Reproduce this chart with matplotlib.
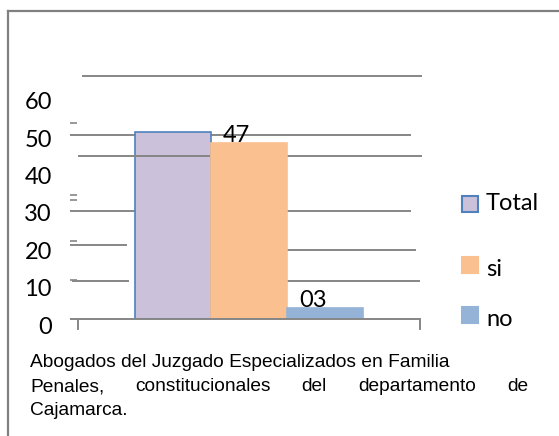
import matplotlib
matplotlib.use("Agg")
import matplotlib.pyplot as plt
from matplotlib.patches import Rectangle
from matplotlib.lines import Line2D
import matplotlib.transforms as mtransforms

# ---- data ----
series = ["Total", "si", "no"]
values = [50, 47, 3]
value_labels = ["", "47", "03"]
ytick_values = [0, 10, 20, 30, 40, 50, 60]
ytick_labels = ["0", "10", "20", "30", "40", "50", "60"]
caption_lines = [
    "Abogados del Juzgado Especializados en Familia",
    "Penales, constitucionales del departamento de",
    "Cajamarca.",
]

# ---- style ----
colors = ["#ccc1da", "#fac090", "#95b3d7"]
edgecolors = ["#4f81bd", "#fac090", "#95b3d7"]
GRID = "#868686"
FONT = "Lato"

W, H = 559, 436
fig = plt.figure(figsize=(W / 100, H / 100), dpi=100)


def fx(x):
    return x / W


def fy(y):
    return 1 - y / H


# outer frame (left and top borders)
fig.add_artist(Line2D([fx(8), fx(8)], [fy(11), 0], transform=fig.transFigure,
                      color="#808080", lw=1.6))
fig.add_artist(Line2D([fx(8), 1], [fy(11), fy(11)], transform=fig.transFigure,
                      color="#808080", lw=1.6))

AX_L, AX_R, AX_B, AX_T = 70, 422, 319, 76
ax = fig.add_axes([fx(AX_L), fy(AX_B), (AX_R - AX_L) / W, (AX_B - AX_T) / H])
XMIN, XMAX = -0.508, 0.492
ax.set_xlim(XMIN, XMAX)
ax.set_ylim(0, 65)
ax.axis("off")

ppu = (AX_B - AX_T) / 65.0  # pixels per unit


def xd(px):
    return XMIN + (px - AX_L) / (AX_R - AX_L) * (XMAX - XMIN)


def yd(py):
    return (AX_B - py) / ppu


def seg(py, x0, x1, z=1, lw=1.4):
    ax.plot([xd(x0), xd(x1)], [yd(py), yd(py)], color=GRID, lw=lw,
            zorder=z, clip_on=False, solid_capstyle="butt")


# irregular gridlines (decoration)
seg(76, 82, 422)
seg(135, 70, 411)
seg(211, 70, 411)
seg(245, 70, 127)
seg(250, 287, 416)
seg(281, 72, 129)
seg(281, 287, 420)
seg(319, 70, 420, z=4)
seg(156, 78, 422, z=2.5)
# small dashes on the left
for py in [123, 195, 200, 241, 280]:
    seg(py, 70, 77, lw=1.2)
# small x ticks
for px in [78, 420]:
    ax.plot([xd(px), xd(px)], [0, -10 / ppu], color=GRID, lw=1.4,
            clip_on=False, zorder=4)

# bars
w = 76 / (AX_R - AX_L) * (XMAX - XMIN)
offsets = [-w, 0, w]
zs = [2, 3, 3]
for i, (s, v) in enumerate(zip(series, values)):
    ax.bar(offsets[i], v, width=w, color=colors[i],
           edgecolor=edgecolors[i], linewidth=1.2, zorder=zs[i])
    if value_labels[i]:
        ax.annotate(value_labels[i], (offsets[i], v), xytext=(-12, 1),
                    textcoords="offset pixels", ha="center", va="baseline",
                    fontsize=17, family=FONT, color="black", zorder=5)

# y tick labels (offset below their nominal position, as in the reference)
off = mtransforms.ScaledTranslation(0, -8 / 100, fig.dpi_scale_trans)
for v, lab in zip(ytick_values, ytick_labels):
    ax.text(xd(52), v, lab, ha="right", va="center", fontsize=17,
            family=FONT, transform=ax.transData + off, clip_on=False)

# legend (manual)
leg_marker_y = [204, 265, 315]
leg_text_y = [210, 276, 326]
for i, s in enumerate(series):
    fig.add_artist(Rectangle((fx(462), fy(leg_marker_y[i] + 8)), 16 / W, 16 / H,
                             transform=fig.transFigure, facecolor=colors[i],
                             edgecolor=edgecolors[i], lw=1.5))
    fig.text(fx(486), fy(leg_text_y[i]), s, fontsize=17, family=FONT,
             va="baseline", ha="left")

# caption
CAP_FS = 13.8
cap_base = [367, 391, 415]
fig.text(fx(30), fy(cap_base[0]), caption_lines[0], fontsize=CAP_FS,
         family="Liberation Sans", va="baseline")
fig.text(fx(30), fy(cap_base[2]), caption_lines[2], fontsize=CAP_FS,
         family="Liberation Sans", va="baseline")

# justified second line
words = caption_lines[1].split()
renderer = fig.canvas.get_renderer()
texts = [fig.text(0, fy(cap_base[1]), wd, fontsize=CAP_FS,
                  family="Liberation Sans", va="baseline") for wd in words]
widths = [t.get_window_extent(renderer).width for t in texts]
x0, x1 = 30, 528
gap = (x1 - x0 - sum(widths)) / (len(words) - 1)
x = x0
for t, wd in zip(texts, widths):
    t.set_x(fx(x))
    x += wd + gap

fig.savefig("out.png", dpi=100)
